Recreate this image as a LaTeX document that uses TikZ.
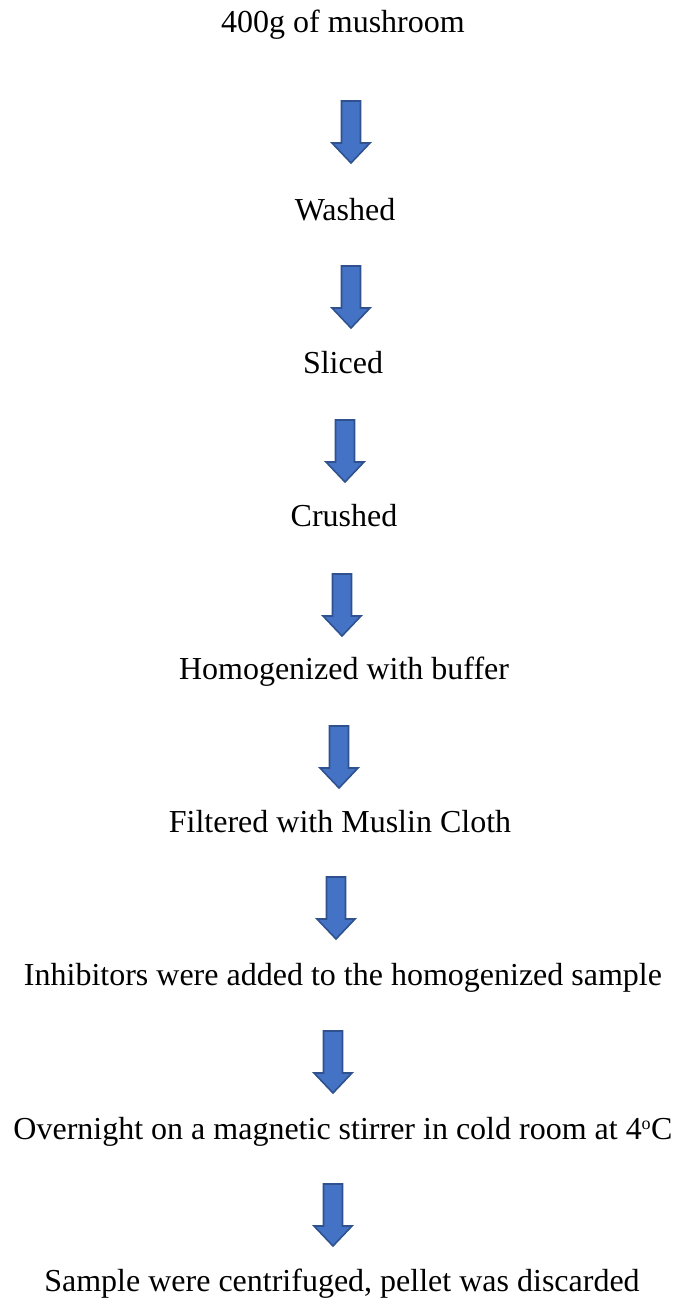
\documentclass[tikz,border=0pt]{standalone}
\usepackage{fontspec}
\setmainfont{Liberation Serif}
\begin{document}
\begin{tikzpicture}[x=1pt,y=-1pt,
  lbl/.style={anchor=base,inner sep=0pt,font=\fontsize{32}{38}\selectfont},
  blockarrow/.style={fill=arrowblue,draw=arrowedge,line width=1.6pt,line join=miter}]
\definecolor{arrowblue}{HTML}{4472C4}
\definecolor{arrowedge}{HTML}{2F528F}
\useasboundingbox (0,0) rectangle (678,1299);
\node[lbl] (t1) at (343,32) {400g of mushroom};
\node[lbl] (t2) at (345,220) {Washed};
\node[lbl] (t3) at (343,373) {Sliced};
\node[lbl] (t4) at (344,526) {Crushed};
\node[lbl] (t5) at (344,679) {Homogenized with buffer};
\node[lbl] (t6) at (340,832) {Filtered with Muslin Cloth};
\node[lbl] (t7) at (343,985) {Inhibitors were added to the homogenized sample};
\node[lbl] (t8) at (343,1139) {Overnight on a magnetic stirrer in cold room at 4\textsuperscript{\fontsize{18}{20}\selectfont o}C};
\node[lbl] (t9) at (342,1291) {Sample were centrifuged, pellet was discarded};
\foreach \cx/\ty in {351/101, 351/266, 345/420, 342/574, 339/726, 336/877, 333/1031, 333/1184}{
  \draw[blockarrow] (\cx-9.5,\ty) -- (\cx+9.5,\ty) -- (\cx+9.5,\ty+42) -- (\cx+19,\ty+42)
    -- (\cx,\ty+62) -- (\cx-19,\ty+42) -- (\cx-9.5,\ty+42) -- cycle;
}
\end{tikzpicture}
\end{document}
